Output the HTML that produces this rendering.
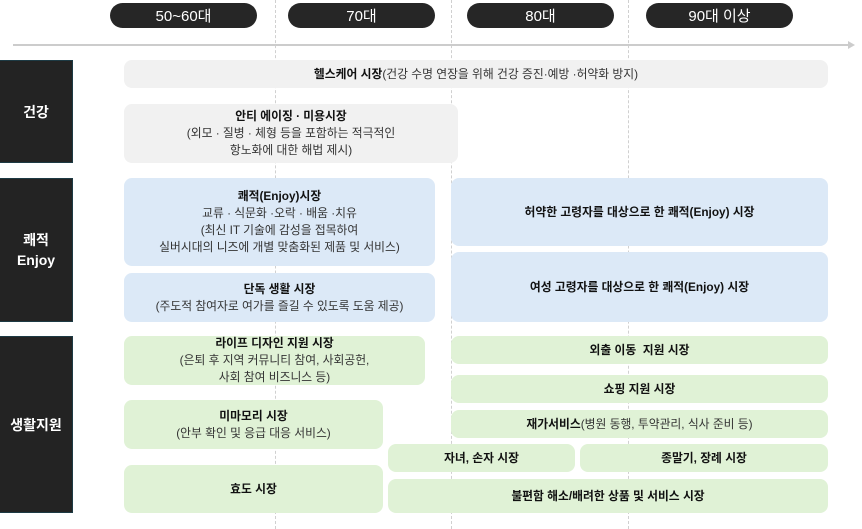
<!DOCTYPE html>
<html><head><meta charset="utf-8"><style>
*{margin:0;padding:0;box-sizing:border-box}
body{width:862px;height:529px;background:#fff;position:relative;overflow:hidden;font-family:"Liberation Sans","Noto Sans CJK KR",sans-serif;color:#222}
.a{position:absolute}
.pill{position:absolute;top:3px;height:25px;width:147px;background:#262626;border-radius:13px;color:#fff;font-size:15px;display:flex;align-items:center;justify-content:center}
.dash{position:absolute;top:0;height:529px;border-left:1px dashed #d0d0d0}
.lab{position:absolute;left:0;width:73px;background:#232323;border:1px solid #1d3a44;border-left:none;color:#fff;font-size:14px;display:flex;align-items:center;justify-content:center;text-align:center;line-height:20px;font-weight:bold}
.b{position:absolute;border-radius:8px;display:flex;flex-direction:column;align-items:center;justify-content:center;text-align:center;font-size:11.8px;line-height:17px;color:#333}
.b b{color:#111}
.g{background:#f1f1f1}.bl{background:#dce9f7}.gr{background:#e0f2d6}
</style></head><body>
<div class="dash" style="left:275px"></div>
<div class="dash" style="left:451px"></div>
<div class="dash" style="left:628px"></div>
<div class="pill" style="left:110px">50~60대</div>
<div class="pill" style="left:288px">70대</div>
<div class="pill" style="left:467px">80대</div>
<div class="pill" style="left:646px">90대 이상</div>
<div class="a" style="left:13px;top:44px;width:838px;height:2px;background:#ccc"></div>
<div class="a" style="left:848px;top:41px;width:0;height:0;border-left:7px solid #ccc;border-top:4px solid transparent;border-bottom:4px solid transparent"></div>

<div class="lab" style="top:60px;height:103px">건강</div>
<div class="lab" style="top:178px;height:144px">쾌적<br>Enjoy</div>
<div class="lab" style="top:336px;height:177px">생활지원</div>

<div class="b g" style="left:124px;top:60px;width:704px;height:28px"><div><b>헬스케어 시장</b>(건강 수명 연장을 위해 건강 증진·예방 ·허약화 방지)</div></div>
<div class="b g" style="left:124px;top:104px;width:334px;height:59px"><b>안티 에이징 · 미용시장</b>(외모 · 질병 · 체형 등을 포함하는 적극적인<br>항노화에 대한 해법 제시)</div>
<div class="b bl" style="left:124px;top:178px;width:311px;height:88px"><b>쾌적(Enjoy)시장</b>교류 · 식문화 ·오락 · 배움 ·치유<br>(최신 IT 기술에 감성을 접목하여<br>실버시대의 니즈에 개별 맞춤화된 제품 및 서비스)</div>
<div class="b bl" style="left:124px;top:273px;width:311px;height:49px"><b>단독 생활 시장</b>(주도적 참여자로 여가를 즐길 수 있도록 도움 제공)</div>
<div class="b bl" style="left:451px;top:178px;width:377px;height:68px"><b>허약한 고령자를 대상으로 한 쾌적(Enjoy) 시장</b></div>
<div class="b bl" style="left:451px;top:252px;width:377px;height:70px"><b>여성 고령자를 대상으로 한 쾌적(Enjoy) 시장</b></div>
<div class="b gr" style="left:124px;top:336px;width:301px;height:49px"><b>라이프 디자인 지원 시장</b>(은퇴 후 지역 커뮤니티 참여, 사회공헌,<br>사회 참여 비즈니스 등)</div>
<div class="b gr" style="left:451px;top:336px;width:377px;height:28px"><b>외출 이동 &nbsp;지원 시장</b></div>
<div class="b gr" style="left:451px;top:375px;width:377px;height:28px"><b>쇼핑 지원 시장</b></div>
<div class="b gr" style="left:451px;top:410px;width:377px;height:28px"><div><b>재가서비스</b>(병원 동행, 투약관리, 식사 준비 등)</div></div>
<div class="b gr" style="left:124px;top:400px;width:259px;height:49px"><b>미마모리 시장</b>(안부 확인 및 응급 대응 서비스)</div>
<div class="b gr" style="left:388px;top:444px;width:187px;height:28px"><b>자녀, 손자 시장</b></div>
<div class="b gr" style="left:580px;top:444px;width:248px;height:28px"><b>종말기, 장례 시장</b></div>
<div class="b gr" style="left:124px;top:465px;width:259px;height:48px"><b>효도 시장</b></div>
<div class="b gr" style="left:388px;top:479px;width:440px;height:34px"><b>불편함 해소/배려한 상품 및 서비스 시장</b></div>
</body></html>
